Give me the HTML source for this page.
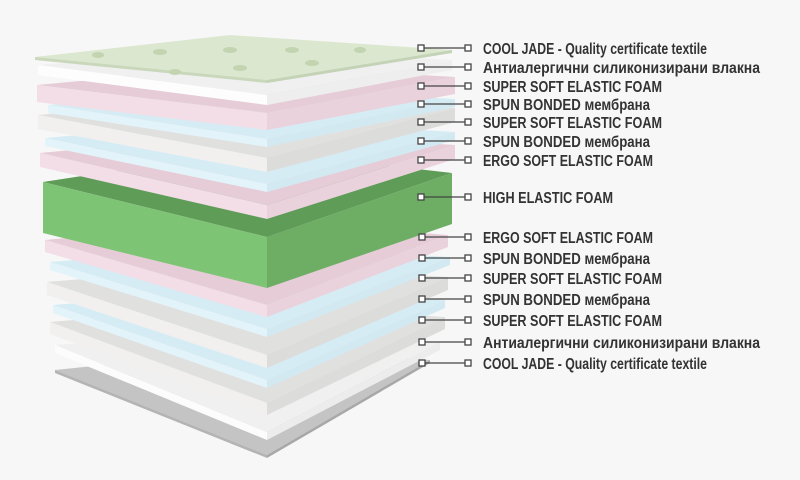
<!DOCTYPE html>
<html><head><meta charset="utf-8"><style>
html,body{margin:0;padding:0;background:#f7f7f7;}
svg{display:block;}
text{font-family:"Liberation Sans Narrow","Liberation Sans","DejaVu Sans Condensed",sans-serif;font-weight:bold;font-size:16px;fill:#333;}
</style></head><body>
<svg width="800" height="480" viewBox="0 0 800 480" xmlns="http://www.w3.org/2000/svg">
<rect width="800" height="480" fill="#f7f7f7"/>
<g>
<!-- 1 base -->
<polygon points="55,370 267,455 430,360 250,350" fill="#c4c4c4"/>
<polygon points="55,370 267,455 267,458 55,373" fill="#b4b4b4"/>
<polygon points="267,455 430,360 430,363 267,458" fill="#a8a8a8"/>
<!-- 2 white -->
<polygon points="55,345 267,432 440,342 250,330" fill="#f0f0f0"/>
<polygon points="55,345 267,432 267,440 55,353" fill="#fcfcfc"/>
<polygon points="267,432 440,342 440,350 267,440" fill="#ececec"/>
<!-- 3 gray -->
<polygon points="50,322 267,403 445,317 250,305" fill="#e0e0de"/>
<polygon points="50,322 267,403 267,415 50,334" fill="#f1f0ee"/>
<polygon points="267,403 445,317 445,329 267,415" fill="#dcdcda"/>
<!-- 4 blue -->
<polygon points="53,305 267,380 445,300 250,290" fill="#d6ecf5"/>
<polygon points="53,305 267,380 267,388 53,313" fill="#e3f3fa"/>
<polygon points="267,380 445,300 445,308 267,388" fill="#d3e9f2"/>
<!-- 5 gray -->
<polygon points="47,282 267,355 448,277 250,265" fill="#e0e0de"/>
<polygon points="47,282 267,355 267,368 47,295" fill="#f1f0ee"/>
<polygon points="267,355 448,277 448,290 267,368" fill="#dcdcda"/>
<!-- 6 blue -->
<polygon points="50,262 267,329 450,257 250,245" fill="#d6ecf5"/>
<polygon points="50,262 267,329 267,337 50,270" fill="#e3f3fa"/>
<polygon points="267,329 450,257 450,265 267,337" fill="#d3e9f2"/>
<!-- 7 pink -->
<polygon points="45,240 267,305 448,235 250,220" fill="#e6ccd7"/>
<polygon points="45,240 267,305 267,317 45,252" fill="#f3dde6"/>
<polygon points="267,305 448,235 448,247 267,317" fill="#ead2dc"/>
<!-- 8 green -->
<polygon points="43,182 267,237 452,173 250,150" fill="#5e9c58"/>
<polygon points="43,182 267,237 267,288 43,233" fill="#7ec475"/>
<polygon points="267,237 452,173 452,224 267,288" fill="#6dae64"/>
<!-- 9 pink -->
<polygon points="40,153 267,205 455,145 250,133" fill="#e6ccd7"/>
<polygon points="40,153 267,205 267,219 40,167" fill="#f3dde6"/>
<polygon points="267,205 455,145 455,159 267,219" fill="#ead2dc"/>
<!-- 10 blue -->
<polygon points="45,138 267,184 455,132 250,120" fill="#d6ecf5"/>
<polygon points="45,138 267,184 267,192 45,146" fill="#e3f3fa"/>
<polygon points="267,184 455,132 455,140 267,192" fill="#d3e9f2"/>
<!-- 11 gray -->
<polygon points="38,115 267,158 455,108 250,96" fill="#e0e0de"/>
<polygon points="38,115 267,158 267,172 38,129" fill="#f1f0ee"/>
<polygon points="267,158 455,108 455,122 267,172" fill="#dcdcda"/>
<!-- 12 blue -->
<polygon points="48,105 267,139 455,99 250,87" fill="#d6ecf5"/>
<polygon points="48,105 267,139 267,147 48,113" fill="#e3f3fa"/>
<polygon points="267,139 455,99 455,107 267,147" fill="#d3e9f2"/>
<!-- 13 pink -->
<polygon points="37,85 267,113 455,77 250,65" fill="#e6ccd7"/>
<polygon points="37,85 267,113 267,130 37,102" fill="#f3dde6"/>
<polygon points="267,113 455,77 455,94 267,130" fill="#ead2dc"/>
<!-- 14 white -->
<polygon points="38,65 267,95 452,60 250,48" fill="#f0f0f0"/>
<polygon points="38,65 267,95 267,105 38,75" fill="#fdfdfd"/>
<polygon points="267,95 452,60 452,70 267,105" fill="#eeeeee"/>
<!-- 15 textile -->
<polygon points="35,57 267,80 452,50 230,35" fill="#dbe7cf"/>
<polygon points="35,57 267,80 267,83 35,60" fill="#c9d8bb"/>
<polygon points="267,80 452,50 452,53 267,83" fill="#c4d2b6"/>
<ellipse cx="98" cy="55" rx="6" ry="3" fill="#c3d4b0"/>
<ellipse cx="160" cy="52" rx="7" ry="3" fill="#c3d4b0"/>
<ellipse cx="230" cy="50" rx="7" ry="3" fill="#c3d4b0"/>
<ellipse cx="240" cy="68" rx="7" ry="3" fill="#c3d4b0"/>
<ellipse cx="292" cy="50" rx="7" ry="3" fill="#c3d4b0"/>
<ellipse cx="312" cy="63" rx="7" ry="3" fill="#c3d4b0"/>
<ellipse cx="175" cy="72" rx="6" ry="3" fill="#c3d4b0"/>
<ellipse cx="360" cy="50" rx="6" ry="3" fill="#c3d4b0"/>
</g>
<g stroke="#444" stroke-width="1.3" fill="#fff">
<line x1="424" y1="48" x2="465" y2="48"/><rect x="418" y="45" width="6" height="6"/><rect x="465" y="45" width="6" height="6"/>
<line x1="424" y1="67" x2="465" y2="67"/><rect x="418" y="64" width="6" height="6"/><rect x="465" y="64" width="6" height="6"/>
<line x1="424" y1="86" x2="465" y2="86"/><rect x="418" y="83" width="6" height="6"/><rect x="465" y="83" width="6" height="6"/>
<line x1="424" y1="104" x2="465" y2="104"/><rect x="418" y="101" width="6" height="6"/><rect x="465" y="101" width="6" height="6"/>
<line x1="424" y1="122" x2="465" y2="122"/><rect x="418" y="119" width="6" height="6"/><rect x="465" y="119" width="6" height="6"/>
<line x1="424" y1="141" x2="465" y2="141"/><rect x="418" y="138" width="6" height="6"/><rect x="465" y="138" width="6" height="6"/>
<line x1="424" y1="160" x2="465" y2="160"/><rect x="418" y="157" width="6" height="6"/><rect x="465" y="157" width="6" height="6"/>
<line x1="424" y1="197" x2="465" y2="197"/><rect x="418" y="194" width="6" height="6"/><rect x="465" y="194" width="6" height="6"/>
<line x1="425" y1="237" x2="465" y2="237"/><rect x="419" y="234" width="6" height="6"/><rect x="465" y="234" width="6" height="6"/>
<line x1="425" y1="258" x2="465" y2="258"/><rect x="419" y="255" width="6" height="6"/><rect x="465" y="255" width="6" height="6"/>
<line x1="425" y1="278" x2="465" y2="278"/><rect x="419" y="275" width="6" height="6"/><rect x="465" y="275" width="6" height="6"/>
<line x1="425" y1="299" x2="465" y2="299"/><rect x="419" y="296" width="6" height="6"/><rect x="465" y="296" width="6" height="6"/>
<line x1="425" y1="320" x2="465" y2="320"/><rect x="419" y="317" width="6" height="6"/><rect x="465" y="317" width="6" height="6"/>
<line x1="425" y1="342" x2="465" y2="342"/><rect x="419" y="339" width="6" height="6"/><rect x="465" y="339" width="6" height="6"/>
<line x1="425" y1="363" x2="465" y2="363"/><rect x="419" y="360" width="6" height="6"/><rect x="465" y="360" width="6" height="6"/>
</g>
<g>
<text x="483" y="54" textLength="224" lengthAdjust="spacingAndGlyphs">COOL JADE - Quality certificate textile</text>
<text x="483" y="73" textLength="277" lengthAdjust="spacingAndGlyphs">Антиалергични силиконизирани влакна</text>
<text x="483" y="92" textLength="179" lengthAdjust="spacingAndGlyphs">SUPER SOFT ELASTIC FOAM</text>
<text x="483" y="110" textLength="167" lengthAdjust="spacingAndGlyphs">SPUN BONDED мембрана</text>
<text x="483" y="128" textLength="179" lengthAdjust="spacingAndGlyphs">SUPER SOFT ELASTIC FOAM</text>
<text x="483" y="147" textLength="167" lengthAdjust="spacingAndGlyphs">SPUN BONDED мембрана</text>
<text x="483" y="166" textLength="170" lengthAdjust="spacingAndGlyphs">ERGO SOFT ELASTIC FOAM</text>
<text x="483" y="203" textLength="130" lengthAdjust="spacingAndGlyphs">HIGH ELASTIC FOAM</text>
<text x="483" y="243" textLength="170" lengthAdjust="spacingAndGlyphs">ERGO SOFT ELASTIC FOAM</text>
<text x="483" y="264" textLength="167" lengthAdjust="spacingAndGlyphs">SPUN BONDED мембрана</text>
<text x="483" y="284" textLength="179" lengthAdjust="spacingAndGlyphs">SUPER SOFT ELASTIC FOAM</text>
<text x="483" y="305" textLength="167" lengthAdjust="spacingAndGlyphs">SPUN BONDED мембрана</text>
<text x="483" y="326" textLength="179" lengthAdjust="spacingAndGlyphs">SUPER SOFT ELASTIC FOAM</text>
<text x="483" y="348" textLength="277" lengthAdjust="spacingAndGlyphs">Антиалергични силиконизирани влакна</text>
<text x="483" y="369" textLength="224" lengthAdjust="spacingAndGlyphs">COOL JADE - Quality certificate textile</text>
</g>
</svg>
</body></html>
